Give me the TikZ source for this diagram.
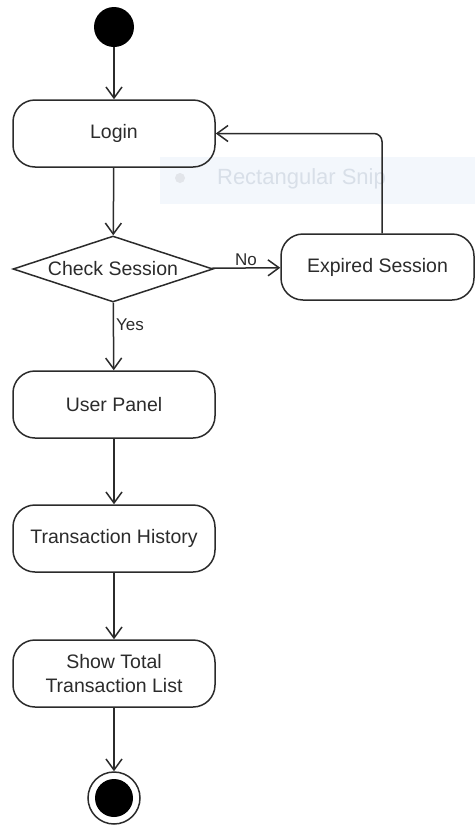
\documentclass[tikz,border=0pt]{standalone}
\usepackage{fontspec}
\setmainfont{Liberation Sans}
\usetikzlibrary{shapes.geometric,arrows.meta}
\definecolor{ink}{HTML}{2B2B2B}
\definecolor{snipbg}{HTML}{F3F7FC}
\definecolor{sniptext}{HTML}{D8DFE8}
\definecolor{snipdotc}{HTML}{E2E5EA}

\begin{document}
\begin{tikzpicture} [
    x=1pt, y=-1pt,
    font=\fontsize{19.5}{24}\selectfont,
    block/.style    = { rectangle, draw=ink, line width=1.5pt, rounded corners=22pt,
                        text=ink, align=center, inner sep=0pt,
                        minimum width=202pt, minimum height=67pt },
    decision/.style = { diamond, draw=ink, line width=1.5pt, text=ink, inner sep=0pt,
                        minimum width=200pt, minimum height=66pt },
    initial/.style  = { circle, fill=black, inner sep=0pt, minimum size=40pt },
    final/.style    = { circle, draw=ink, line width=1.5pt, inner sep=0pt, minimum size=52pt,
                        path picture={\fill[black] (path picture bounding box.center) circle (19pt);} },
    line/.style     = { draw=ink, line width=1.5pt,
                        -{Straight Barb[length=11pt,width=16pt]} },
    guard/.style    = { text=ink, font=\fontsize{17}{20}\selectfont, inner sep=2pt },
  ]

  \useasboundingbox (0,0) rectangle (475,825);

  % snip overlay
  \node[rectangle, fill=snipbg, minimum width=315pt, minimum height=47pt, inner sep=0pt]
    (snip) at (317.5,180.5) {};
  \node[circle, fill=snipdotc, minimum size=10pt, inner sep=0pt] (snipdot) at (180,178) {};
  \node[text=sniptext, font=\fontsize{22}{26}\selectfont, inner sep=0pt] (sniplabel) at (301.5,179) {Rectangular Snip};

  % define nodes
  \node[initial]  (start)   at (114,27) {};
  \node[block]    (login)   at (114,133.5) {Login};
  \node[decision] (check)   at (113,269) {\makebox[0pt]{Check Session}};
  \node[block, minimum width=193pt, minimum height=66pt] (expired) at (377.5,267) {Expired Session};
  \node[block]    (panel)   at (114,404.5) {User Panel};
  \node[block]    (history) at (114,538.5) {Transaction History};
  \node[block]    (total)   at (114,673.5) {Show Total\\Transaction List};
  \node[final]    (stop)    at (114,798) {};

  % connect the nodes
  \path [line] (start) -- (login);
  \path [line] (login) -- (check);
  \path [line] (check) -- node[guard, above] (no) {No} (expired);
  \path [line] (check) -- node[guard, right, pos=0.32] (yes) {Yes} (panel);
  \path [line, rounded corners=8pt] ([xshift=4.5pt]expired.north) |- (login.east);
  \path [line] (panel) -- (history);
  \path [line] (history) -- (total);
  \path [line] (total) -- (stop);
\end{tikzpicture}
\end{document}
